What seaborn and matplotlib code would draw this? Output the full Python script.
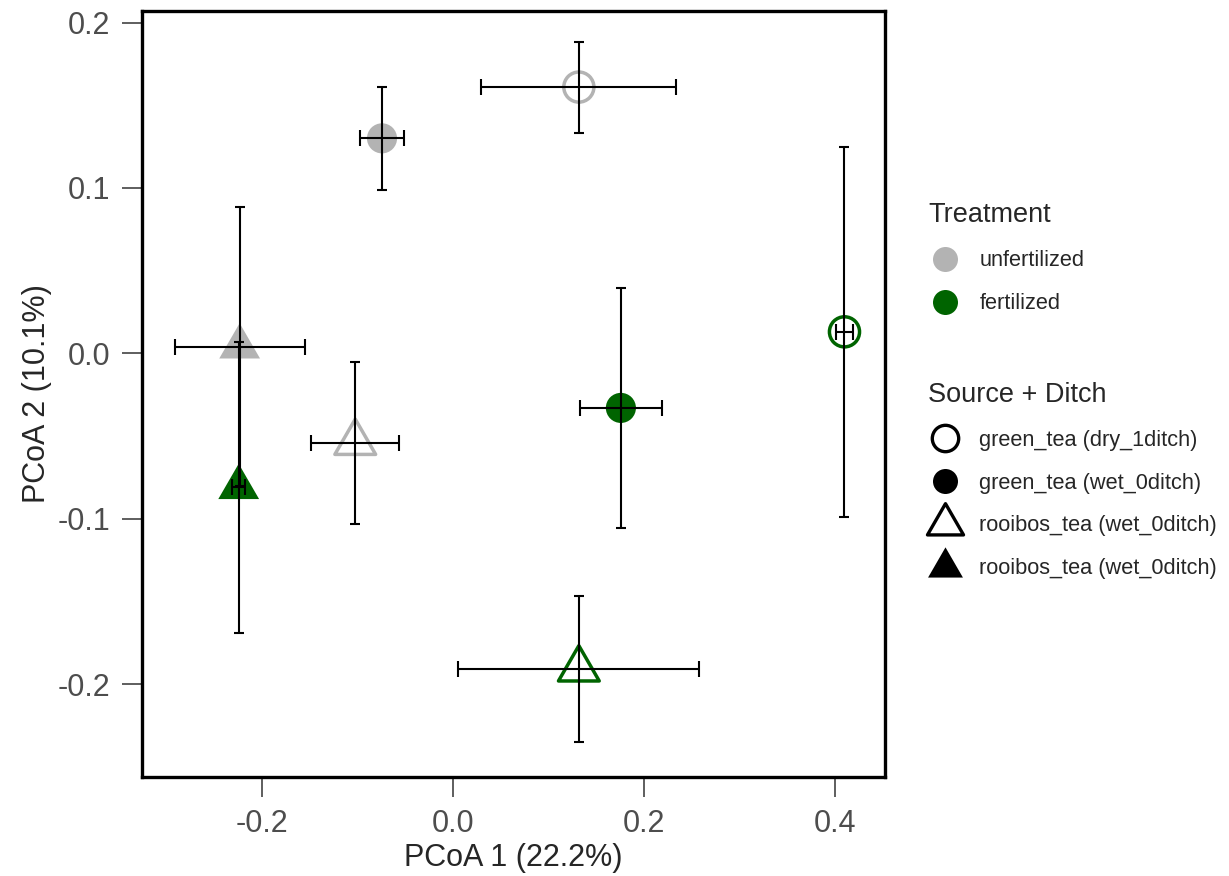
"""
PCoA ordination of tea-bag communities: group centroids with standard errors.
"""

import matplotlib
matplotlib.use("Agg")
import matplotlib.pyplot as plt
from matplotlib.lines import Line2D
from matplotlib.path import Path
import seaborn as sns
import pandas as pd

# ---- data ----
treatment = ["unfertilized", "unfertilized", "unfertilized", "unfertilized",
             "fertilized", "fertilized", "fertilized", "fertilized"]
source_idx = [0, 1, 2, 3, 0, 1, 2, 3]
pc1 = [0.132, -0.074, -0.102, -0.223, 0.410, 0.176, 0.132, -0.224]
pc2 = [0.161, 0.130, -0.054, 0.004, 0.013, -0.033, -0.191, -0.081]
pc1_se = [0.102, 0.0235, 0.046, 0.068, 0.009, 0.043, 0.126, 0.0065]
pc2_se = [0.0275, 0.031, 0.049, 0.0845, 0.112, 0.0725, 0.044, 0.088]

treatment_order = ["unfertilized", "fertilized"]
treatment_colors = ["#B3B3B3", "#006400"]
source_labels = ["green_tea (dry_1ditch)", "green_tea (wet_0ditch)",
                 "rooibos_tea (wet_0ditch)", "rooibos_tea (wet_0ditch)"]
source_filled = [False, True, False, True]

x_ticks = [-0.2, 0.0, 0.2, 0.4]
y_ticks = [-0.2, -0.1, 0.0, 0.1, 0.2]

# R-style equilateral triangle (centroid at origin), closed outline
TRI = Path([(0, 1.5551), (1.3468, -0.7776), (-1.3468, -0.7776), (0, 1.5551)],
           [Path.MOVETO, Path.LINETO, Path.LINETO, Path.CLOSEPOLY])
source_markers = ["o", "o", TRI, TRI]
source_sizes = [470, 470, 1150, 1150]

df = pd.DataFrame({"treatment": treatment, "source": source_idx,
                   "pc1": pc1, "pc2": pc2, "se1": pc1_se, "se2": pc2_se})
palette = dict(zip(treatment_order, treatment_colors))

sns.set_style("ticks")
plt.rcParams["font.family"] = ["Liberation Sans", "DejaVu Sans"]

fig = plt.figure(figsize=(12.29, 8.76), dpi=100)
ax = fig.add_axes([141.7 / 1229, 1 - 776.7 / 876,
                   (885 - 141.7) / 1229, (776.7 - 11) / 876])

for k in range(len(source_labels)):
    sub = df[df["source"] == k]
    sns.scatterplot(data=sub, x="pc1", y="pc2", hue="treatment",
                    palette=palette, marker=source_markers[k],
                    s=source_sizes[k], linewidth=0, edgecolor="none",
                    legend=False, ax=ax, zorder=2)
    if not source_filled[k]:
        coll = ax.collections[-1]
        coll.set_edgecolor(coll.get_facecolor())
        coll.set_facecolor("none")
        coll.set_linewidth(2.5)

# error bars (drawn on top of the points, as in the original)
ax.errorbar(df["pc1"], df["pc2"], xerr=df["se1"], fmt="none", ecolor="black",
            elinewidth=1.5, capsize=5.9, capthick=1.5, zorder=3)
ax.errorbar(df["pc1"], df["pc2"], yerr=df["se2"], fmt="none", ecolor="black",
            elinewidth=1.5, capsize=3.4, capthick=1.5, zorder=3)

ax.set_xlim(-0.3255, 0.4524)
ax.set_ylim(-0.256, 0.207)
ax.set_xticks(x_ticks)
ax.set_yticks(y_ticks)
ax.set_xticklabels([f"{t:.1f}" for t in x_ticks])
ax.set_yticklabels([f"{t:.1f}" for t in y_ticks])
ax.tick_params(axis="both", length=14.4, width=1.1, color="#333333",
               labelcolor="#4D4D4D", labelsize=22)
ax.tick_params(axis="x", pad=9)
ax.tick_params(axis="y", pad=8)
for sp in ax.spines.values():
    sp.set_linewidth(2.4)
    sp.set_color("black")
ax.set_xlabel("PCoA 1 (22.2%)", fontsize=22, labelpad=3)
ax.set_ylabel("PCoA 2 (10.1%)", fontsize=22, labelpad=4.5)

# ---- legends ----
treat_handles = [Line2D([], [], ls="", marker="o", markersize=18,
                        markerfacecolor=c, markeredgewidth=0)
                 for c in treatment_colors]
src_handles = []
for k in range(len(source_labels)):
    ms = 19 if source_markers[k] == "o" else 30
    if source_filled[k]:
        h = Line2D([], [], ls="", marker=source_markers[k], markersize=ms - 1,
                   markerfacecolor="black", markeredgewidth=0)
    else:
        h = Line2D([], [], ls="", marker=source_markers[k], markersize=ms,
                   markerfacecolor="none", markeredgecolor="black",
                   markeredgewidth=2.4)
    src_handles.append(h)

leg_kw = dict(loc="upper left", frameon=False, fontsize=15.7,
              title_fontsize=19.5, alignment="left", borderpad=0,
              borderaxespad=0, handlelength=1.6, handletextpad=0.76)
leg1 = fig.legend(treat_handles, treatment_order, title="Treatment",
                  bbox_to_anchor=(928 / 1229, 1 - 202 / 876),
                  labelspacing=1.02, **leg_kw)
leg2 = fig.legend(src_handles, source_labels, title="Source + Ditch",
                  bbox_to_anchor=(928 / 1229, 1 - 382 / 876),
                  labelspacing=1.0, **leg_kw)

fig.savefig("out.png", dpi=100)
